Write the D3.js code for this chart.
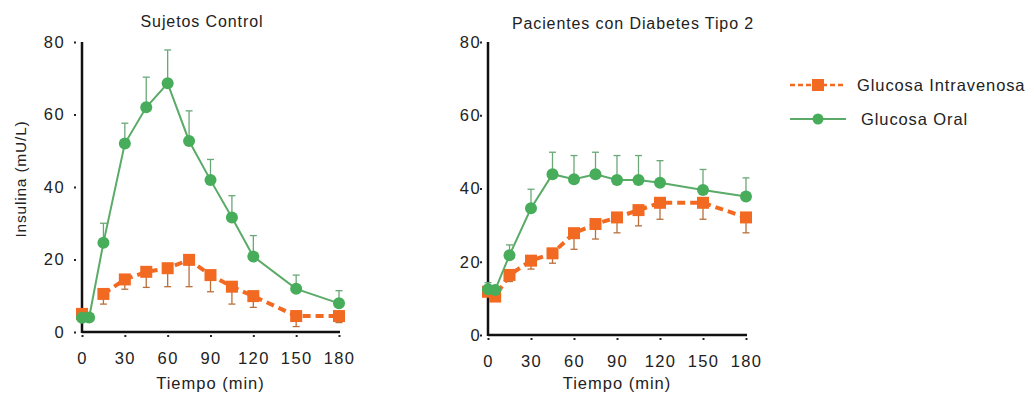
<!DOCTYPE html>
<meta charset="utf-8">
<style>
body { margin: 0; background: #fff; font-family: "Liberation Sans", Arial, sans-serif; }
</style>
<body>
<script src="https://cdn.jsdelivr.net/npm/d3@7/dist/d3.min.js"></script>
<script>
// sample times (min)
var times = [0, 5, 15, 30, 45, 60, 75, 90, 105, 120, 150, 180];

// Sujetos Control
var controlOral   = [3.9, 4.0, 24.6, 52.0, 62.0, 68.6, 52.7, 41.9, 31.6, 20.8, 11.9, 7.9];
var controlOralHi = [null, null, 30.0, 57.6, 70.3, 77.8, 61.0, 47.6, 37.6, 26.6, 15.7, 11.4];
var controlIV     = [5.0, null, 10.5, 14.5, 16.6, 17.6, 19.9, 15.7, 12.5, 9.9, 4.4, 4.4];
var controlIVLo   = [null, null, 7.7, 11.8, 12.3, 12.5, 12.5, 11.1, 7.7, 6.8, 1.5, 2.6];

// Pacientes con Diabetes Tipo 2
var diabOral   = [12.5, 12.3, 21.8, 34.6, 43.9, 42.5, 43.9, 42.3, 42.3, 41.6, 39.6, 37.8];
var diabOralHi = [14.3, null, 24.6, 39.8, 49.9, 49.0, 49.9, 49.0, 49.0, 47.6, 45.2, 42.9];
var diabIV     = [11.8, 10.5, 16.4, 20.3, 22.3, 27.8, 30.3, 32.1, 34.1, 36.1, 36.1, 32.1];
var diabIVLo   = [null, null, 14.6, 18.0, 19.6, 23.4, 26.2, 27.9, 29.8, 31.6, 31.6, 27.9];

var xTicks = [0, 30, 60, 90, 120, 150, 180];
var yTicks = [0, 20, 40, 60, 80];

var orange = "#f26a22", green = "#47ad5b", greenLine = "#5bab68";
var orangeErr = "#b8703c", greenErr = "#6aa877";

var svg = d3.select("body").append("svg")
  .attr("width", 1034).attr("height", 396);

function panel(opt) {
  var x = d3.scaleLinear().domain([0, 180]).range([opt.x0, opt.x1]);
  var y = d3.scaleLinear().domain([0, 80]).range([opt.y0, opt.y1]);
  var g = svg.append("g");

  // axes
  var xa = g.append("g").attr("transform", "translate(0," + opt.y0 + ")")
    .call(d3.axisBottom(x).tickValues(xTicks).tickSize(3).tickPadding(17));
  var ya = g.append("g").attr("transform", "translate(" + opt.x0 + ",0)")
    .call(d3.axisLeft(y).tickValues(yTicks).tickSize(3).tickPadding(opt.ypad));
  [xa, ya].forEach(function (a) {
    a.select(".domain").attr("stroke", "#111").attr("stroke-width", 2.5);
    a.selectAll(".tick line").attr("stroke", "#222").attr("stroke-width", 2);
    a.selectAll(".tick text").attr("font-size", 16.5).attr("fill", "#222")
      .attr("font-family", "Liberation Sans, Arial, sans-serif")
      .style("letter-spacing", "1.4px");
  });
  xa.selectAll(".tick line").attr("y1", 3).attr("y2", 5);
  ya.selectAll(".tick line").attr("x1", -6).attr("x2", -8);
  xa.select(".domain").attr("d", "M" + opt.x0 + ",0H" + (opt.x1 + 1));
  ya.select(".domain").attr("d", "M0," + opt.y1 + "V" + (opt.y0 + 1));

  g.append("text").attr("x", opt.titleX).attr("y", opt.titleY)
    .attr("text-anchor", "middle").attr("font-size", 16).attr("fill", "#222")
    .style("letter-spacing", "0.9px")
    .text(opt.title);
  g.append("text").attr("x", (opt.x0 + opt.x1) / 2).attr("y", 389)
    .attr("text-anchor", "middle").attr("font-size", 16.5).attr("fill", "#222")
    .style("letter-spacing", "1px")
    .text("Tiempo (min)");

  var line = d3.line().defined(function (d) { return d[1] != null; })
    .x(function (d) { return x(d[0]); }).y(function (d) { return y(d[1]); });

  function pairs(vals) { return times.map(function (t, i) { return [t, vals[i], i]; }); }

  // error bars
  function errs(vals, ends, color) {
    var data = pairs(vals).filter(function (d) { return d[1] != null && ends[d[2]] != null; });
    g.selectAll(null).data(data).enter().append("line")
      .attr("x1", function (d) { return x(d[0]); }).attr("x2", function (d) { return x(d[0]); })
      .attr("y1", function (d) { return y(d[1]); }).attr("y2", function (d) { return y(ends[d[2]]); })
      .attr("stroke", color).attr("stroke-width", 1.3);
    g.selectAll(null).data(data).enter().append("line")
      .attr("x1", function (d) { return x(d[0]) - 3.5; }).attr("x2", function (d) { return x(d[0]) + 3.5; })
      .attr("y1", function (d) { return y(ends[d[2]]); }).attr("y2", function (d) { return y(ends[d[2]]); })
      .attr("stroke", color).attr("stroke-width", 1.3);
  }

  errs(opt.iv, opt.ivLo, orangeErr);
  errs(opt.oral, opt.oralHi, greenErr);

  // intravenous: dashed orange with squares
  g.append("path").datum(pairs(opt.iv)).attr("d", line)
    .attr("fill", "none").attr("stroke", orange).attr("stroke-width", 4)
    .attr("stroke-dasharray", "8,5");
  g.selectAll(null).data(pairs(opt.iv).filter(function (d) { return d[1] != null; }))
    .enter().append("rect")
    .attr("x", function (d) { return x(d[0]) - 6; }).attr("y", function (d) { return y(d[1]) - 6; })
    .attr("width", 12).attr("height", 12).attr("fill", orange);

  // oral: solid green with circles
  g.append("path").datum(pairs(opt.oral)).attr("d", line)
    .attr("fill", "none").attr("stroke", greenLine).attr("stroke-width", 2);
  g.selectAll(null).data(pairs(opt.oral).filter(function (d) { return d[1] != null; }))
    .enter().append("circle")
    .attr("cx", function (d) { return x(d[0]); }).attr("cy", function (d) { return y(d[1]); })
    .attr("r", 6).attr("fill", green);
}

panel({ x0: 82, x1: 339, y0: 332, y1: 42, ypad: 14, title: "Sujetos Control", titleX: 202, titleY: 27,
  oral: controlOral, oralHi: controlOralHi, iv: controlIV, ivLo: controlIVLo });
panel({ x0: 488, x1: 746, y0: 335, y1: 42, ypad: 4, title: "Pacientes con Diabetes Tipo 2", titleX: 633, titleY: 29,
  oral: diabOral, oralHi: diabOralHi, iv: diabIV, ivLo: diabIVLo });

// y label
svg.append("text").attr("transform", "translate(26,179) rotate(-90)")
  .attr("text-anchor", "middle").attr("font-size", 15.5).attr("fill", "#222")
  .style("letter-spacing", "0.8px")
  .text("Insulina (mU/L)");

// legend
var legend = svg.append("g");
legend.append("line").attr("x1", 790).attr("x2", 846).attr("y1", 85).attr("y2", 85)
  .attr("stroke", orange).attr("stroke-width", 2.5).attr("stroke-dasharray", "5,3");
legend.append("rect").attr("x", 812).attr("y", 79).attr("width", 12).attr("height", 12).attr("fill", orange);
legend.append("text").attr("x", 857).attr("y", 91).attr("font-size", 16.5).attr("fill", "#222")
  .style("letter-spacing", "0.9px")
  .text("Glucosa Intravenosa");
legend.append("line").attr("x1", 790).attr("x2", 846).attr("y1", 119).attr("y2", 119)
  .attr("stroke", greenLine).attr("stroke-width", 2);
legend.append("circle").attr("cx", 818).attr("cy", 119).attr("r", 5.5).attr("fill", green);
legend.append("text").attr("x", 861).attr("y", 125).attr("font-size", 16.5).attr("fill", "#222")
  .style("letter-spacing", "0.9px")
  .text("Glucosa Oral");
</script>
</body>
